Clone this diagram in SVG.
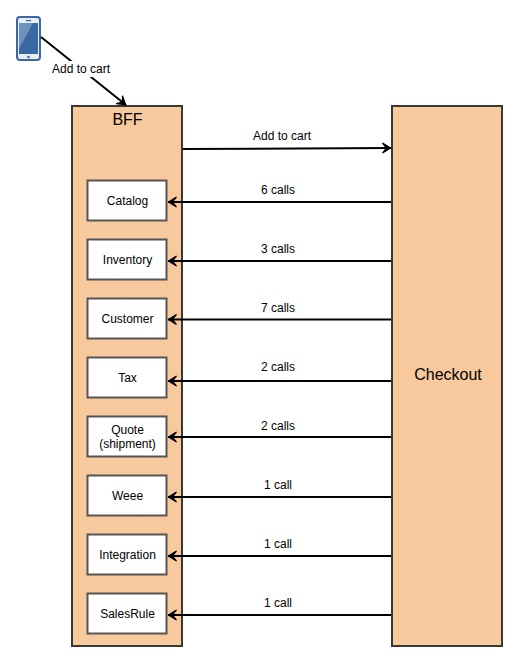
<svg xmlns="http://www.w3.org/2000/svg" width="527" height="666" viewBox="0 0 527 666">
<style>
text{font-family:"Liberation Sans",Arial,sans-serif;font-size:12px;fill:#000;text-anchor:middle}
.big{fill:#f8c99c;stroke:#383838;stroke-width:2}
.box{fill:#fff;stroke:#555;stroke-width:2}
.c{fill:none;stroke:#000;stroke-width:2;marker-end:url(#a)}
.title{font-size:16px}
</style>
<defs>
<marker id="a" markerUnits="userSpaceOnUse" markerWidth="14" markerHeight="14" refX="11" refY="7" orient="auto">
<path d="M2.500 2 L10.500 7 L2.500 12 L6.500 7 Z" fill="#000" stroke="#000" stroke-width="1.200"/>
</marker>
</defs>
<rect width="527" height="666" fill="#fff"/>
<g id="phone">
<rect x="17" y="17" width="23" height="43" rx="3" fill="#e8eef6" stroke="#3a68a4" stroke-width="2"/>
<rect x="19" y="23" width="19" height="31" fill="#3a68a4"/>
<path d="M19 23 H33 L19 49 Z" fill="#6f91bd"/>
<rect x="26" y="20" width="5" height="1.200" fill="#3a68a4"/>
<circle cx="28.500" cy="57" r="1.300" fill="#3a68a4"/>
</g>
<g id="bff"><rect class="big" x="72" y="106" width="110" height="540"/><text class="title" x="127.500" y="125">BFF</text></g>
<g id="checkout"><rect class="big" x="392" y="106" width="110" height="540"/><text class="title" x="448" y="380">Checkout</text></g>
<g id="catalog"><rect class="box" x="87.500" y="180.500" width="79" height="40"/><text x="127.500" y="205">Catalog</text></g>
<g id="inventory"><rect class="box" x="87.500" y="239.500" width="79" height="40"/><text x="127.500" y="264">Inventory</text></g>
<g id="customer"><rect class="box" x="87.500" y="298.500" width="79" height="40"/><text x="127.500" y="323">Customer</text></g>
<g id="tax"><rect class="box" x="87.500" y="357.500" width="79" height="40"/><text x="127.500" y="382">Tax</text></g>
<g id="quote"><rect class="box" x="87.500" y="416.500" width="79" height="40"/><text x="127.500" y="434">Quote</text><text x="127.500" y="448">(shipment)</text></g>
<g id="weee"><rect class="box" x="87.500" y="475.500" width="79" height="40"/><text x="127.500" y="500">Weee</text></g>
<g id="integration"><rect class="box" x="87.500" y="534.500" width="79" height="40"/><text x="127.500" y="559">Integration</text></g>
<g id="salesrule"><rect class="box" x="87.500" y="593.500" width="79" height="40"/><text x="127.500" y="618">SalesRule</text></g>
<g id="connectors">
<path class="c" d="M41 37 L126 105"/>
<path class="c" d="M183 149 L391 148"/>
<path class="c" d="M391 202 L168 202"/>
<path class="c" d="M391 261 L168 261"/>
<path class="c" d="M391 319.500 L168 319.500"/>
<path class="c" d="M391 381 L168 381"/>
<path class="c" d="M391 437 L168 437"/>
<path class="c" d="M391 497 L168 497"/>
<path class="c" d="M391 556 L168 556"/>
<path class="c" d="M391 615 L168 615"/>
<rect x="51" y="61" width="60" height="16" fill="#fff"/>
<text x="81" y="73">Add to cart</text>
<text x="282" y="140">Add to cart</text>
<text x="278" y="194">6 calls</text>
<text x="278" y="253">3 calls</text>
<text x="278" y="312">7 calls</text>
<text x="278" y="371">2 calls</text>
<text x="278" y="430">2 calls</text>
<text x="278" y="489">1 call</text>
<text x="278" y="548">1 call</text>
<text x="278" y="607">1 call</text>
</g>
</svg>
